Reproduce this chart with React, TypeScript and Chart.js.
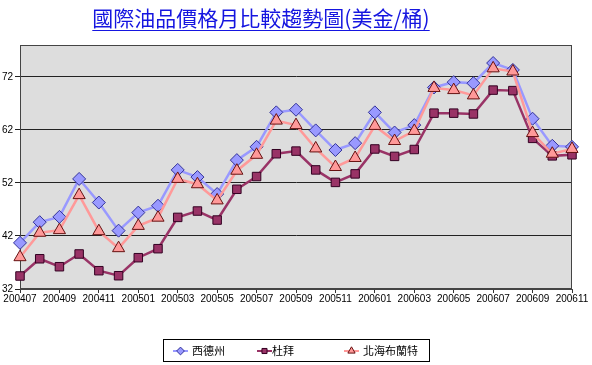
import React, { useEffect, useRef } from 'react';
import { Chart, registerables } from 'chart.js';

Chart.register(...registerables);

const TITLE = '國際油品價格月比較趨勢圖(美金/桶)';

const MONTHS = [
  '200407', '200408', '200409', '200410', '200411', '200412',
  '200501', '200502', '200503', '200504', '200505', '200506',
  '200507', '200508', '200509', '200510', '200511', '200512',
  '200601', '200602', '200603', '200604', '200605', '200606',
  '200607', '200608', '200609', '200610', '200611',
];

const SERIES_NAMES = ['西德州', '杜拜', '北海布蘭特'];

const WTI = [
  40.7, 44.6, 45.6, 52.75, 48.3, 43.0, 46.4, 47.7, 54.45, 53.1, 49.9, 56.3,
  58.8, 65.3, 65.8, 61.9, 58.2, 59.5, 65.3, 61.5, 62.9, 70.0, 71.0, 70.8,
  74.6, 73.3, 64.1, 59.0, 58.8,
];

const DUBAI = [
  34.45, 37.7, 36.2, 38.6, 35.45, 34.5, 37.9, 39.6, 45.5, 46.7, 45.0, 50.8,
  53.2, 57.5, 58.0, 54.45, 52.1, 53.7, 58.4, 57.0, 58.3, 65.15, 65.15, 65.0,
  69.5, 69.4, 60.4, 57.1, 57.3,
];

const BRENT = [
  38.0, 42.6, 43.1, 49.7, 42.9, 39.7, 43.9, 45.45, 52.75, 51.75, 48.7, 54.3,
  57.3, 63.75, 62.9, 58.5, 55.0, 56.7, 62.75, 59.9, 61.8, 69.9, 69.5, 68.5,
  73.6, 73.0, 61.4, 57.5, 58.4,
];

const Y_TICKS = [32, 42, 52, 62, 72];
const Y_MIN = 32;
const Y_MAX = 78;

const STYLES = [
  { line: '#9999ff', fill: '#9999ff', border: '#333399', style: 'rectRot', radius: 6.5 },
  { line: '#993366', fill: '#993366', border: '#330022', style: 'rect', radius: 6 },
  { line: '#ff9999', fill: '#ff9999', border: '#661111', style: 'triangle', radius: 7 },
];

function drawMarker(ctx: CanvasRenderingContext2D, style: string, x: number, y: number, r: number) {
  ctx.beginPath();
  if (style === 'rectRot') {
    ctx.moveTo(x, y - r);
    ctx.lineTo(x + r, y);
    ctx.lineTo(x, y + r);
    ctx.lineTo(x - r, y);
  } else if (style === 'rect') {
    const s = r * Math.SQRT1_2;
    ctx.rect(x - s, y - s, 2 * s, 2 * s);
  } else {
    const h = r * 1.5;
    const w = r * Math.sqrt(3) / 2;
    ctx.moveTo(x, y - r);
    ctx.lineTo(x + w, y + h - r);
    ctx.lineTo(x - w, y + h - r);
  }
  ctx.closePath();
  ctx.fill();
  ctx.stroke();
}

const decorPlugin = {
  id: 'decor',
  beforeDraw(chart: any) {
    const { ctx, chartArea: a } = chart;
    ctx.save();
    ctx.fillStyle = '#dddddd';
    ctx.fillRect(a.left, a.top, a.right - a.left, a.bottom - a.top);
    ctx.restore();
  },
  beforeDatasetsDraw(chart: any) {
    const { ctx, chartArea: a } = chart;
    ctx.save();
    ctx.strokeStyle = '#444444';
    ctx.lineWidth = 1;
    ctx.strokeRect(Math.round(a.left) + 0.5, Math.round(a.top) + 0.5,
      Math.round(a.right - a.left) - 1, Math.round(a.bottom - a.top) - 1);
    ctx.restore();
  },
  afterDraw(chart: any) {
    const { ctx } = chart;
    ctx.save();
    // Title
    ctx.font = '21px "Noto Sans CJK TC"';
    ctx.fillStyle = '#1515e0';
    ctx.textAlign = 'center';
    ctx.textBaseline = 'middle';
    const tx = 261;
    const ty = 18;
    ctx.fillText(TITLE, tx, ty);
    const tw = ctx.measureText(TITLE).width;
    ctx.strokeStyle = '#1515e0';
    ctx.lineWidth = 1;
    ctx.beginPath();
    ctx.moveTo(tx - tw / 2, 30.5);
    ctx.lineTo(tx + tw / 2, 30.5);
    ctx.stroke();

    // Legend
    ctx.strokeStyle = '#000000';
    ctx.lineWidth = 1;
    ctx.strokeRect(163.5, 339.5, 266, 22);
    const lineStarts = [173, 257, 344];
    const textStarts = [192, 272, 363];
    const ly = 351;
    ctx.font = '11px "Noto Sans CJK TC"';
    ctx.textAlign = 'left';
    ctx.textBaseline = 'middle';
    chart.data.datasets.forEach((ds: any, i: number) => {
      const st = STYLES[i];
      ctx.strokeStyle = st.line;
      ctx.lineWidth = 2;
      ctx.beginPath();
      ctx.moveTo(lineStarts[i], ly);
      ctx.lineTo(lineStarts[i] + 15, ly);
      ctx.stroke();
      ctx.fillStyle = st.fill;
      ctx.strokeStyle = st.border;
      ctx.lineWidth = 1;
      drawMarker(ctx, st.style, lineStarts[i] + 7.5, ly, st.radius * 0.6);
      ctx.fillStyle = '#000000';
      ctx.fillText(ds.label, textStarts[i], ly);
    });
    ctx.restore();
  },
};

export default function App() {
  const ref = useRef<HTMLCanvasElement | null>(null);

  useEffect(() => {
    if (!ref.current) return;
    const seriesValues = [WTI, DUBAI, BRENT];
    const chart = new Chart(ref.current, {
      type: 'line',
      data: {
        labels: MONTHS,
        datasets: seriesValues.map((vals, i) => ({
          label: SERIES_NAMES[i],
          data: vals,
          borderColor: STYLES[i].line,
          backgroundColor: STYLES[i].fill,
          borderWidth: 2.5,
          pointStyle: STYLES[i].style as any,
          pointRadius: STYLES[i].radius,
          pointBackgroundColor: STYLES[i].fill,
          pointBorderColor: STYLES[i].border,
          pointBorderWidth: 1,
          tension: 0,
          fill: false,
          order: 3 - i,
        })),
      },
      options: {
        animation: false,
        responsive: false,
        devicePixelRatio: 1,
        layout: { padding: { left: 0, right: 20, top: 45, bottom: 56 } },
        plugins: {
          legend: { display: false },
          title: { display: false },
          tooltip: { enabled: false },
        },
        scales: {
          x: {
            type: 'category',
            offset: false,
            afterFit: (s: any) => { s.height = 20; },
            afterBuildTicks: (s: any) => {
              s.ticks = s.ticks.filter((_t: any, i: number) => i % 2 === 0);
            },
            grid: {
              drawOnChartArea: false,
              drawTicks: true,
              tickLength: 4,
              color: '#333333',
            },
            border: { display: true, color: '#444444' },
            ticks: {
              autoSkip: false,
              maxRotation: 0,
              padding: 0,
              color: '#000000',
              font: { family: '"Liberation Sans", Arial, sans-serif', size: 10 },
            },
          },
          y: {
            min: Y_MIN,
            max: Y_MAX,
            afterFit: (s: any) => { s.width = 20; },
            afterBuildTicks: (s: any) => {
              s.ticks = Y_TICKS.map((v) => ({ value: v }));
            },
            grid: {
              drawOnChartArea: true,
              drawTicks: true,
              tickLength: 5,
              color: '#222222',
            },
            border: { display: true, color: '#444444' },
            ticks: {
              padding: 2,
              color: '#000000',
              font: { family: '"Liberation Sans", Arial, sans-serif', size: 10 },
            },
          },
        },
      },
      plugins: [decorPlugin],
    });
    return () => chart.destroy();
  }, []);

  return (
    <div style={{ position: 'absolute', left: 0, top: 0, width: 592, height: 365, background: '#ffffff' }}>
      <canvas ref={ref} width={592} height={365} style={{ display: 'block' }} />
    </div>
  );
}
